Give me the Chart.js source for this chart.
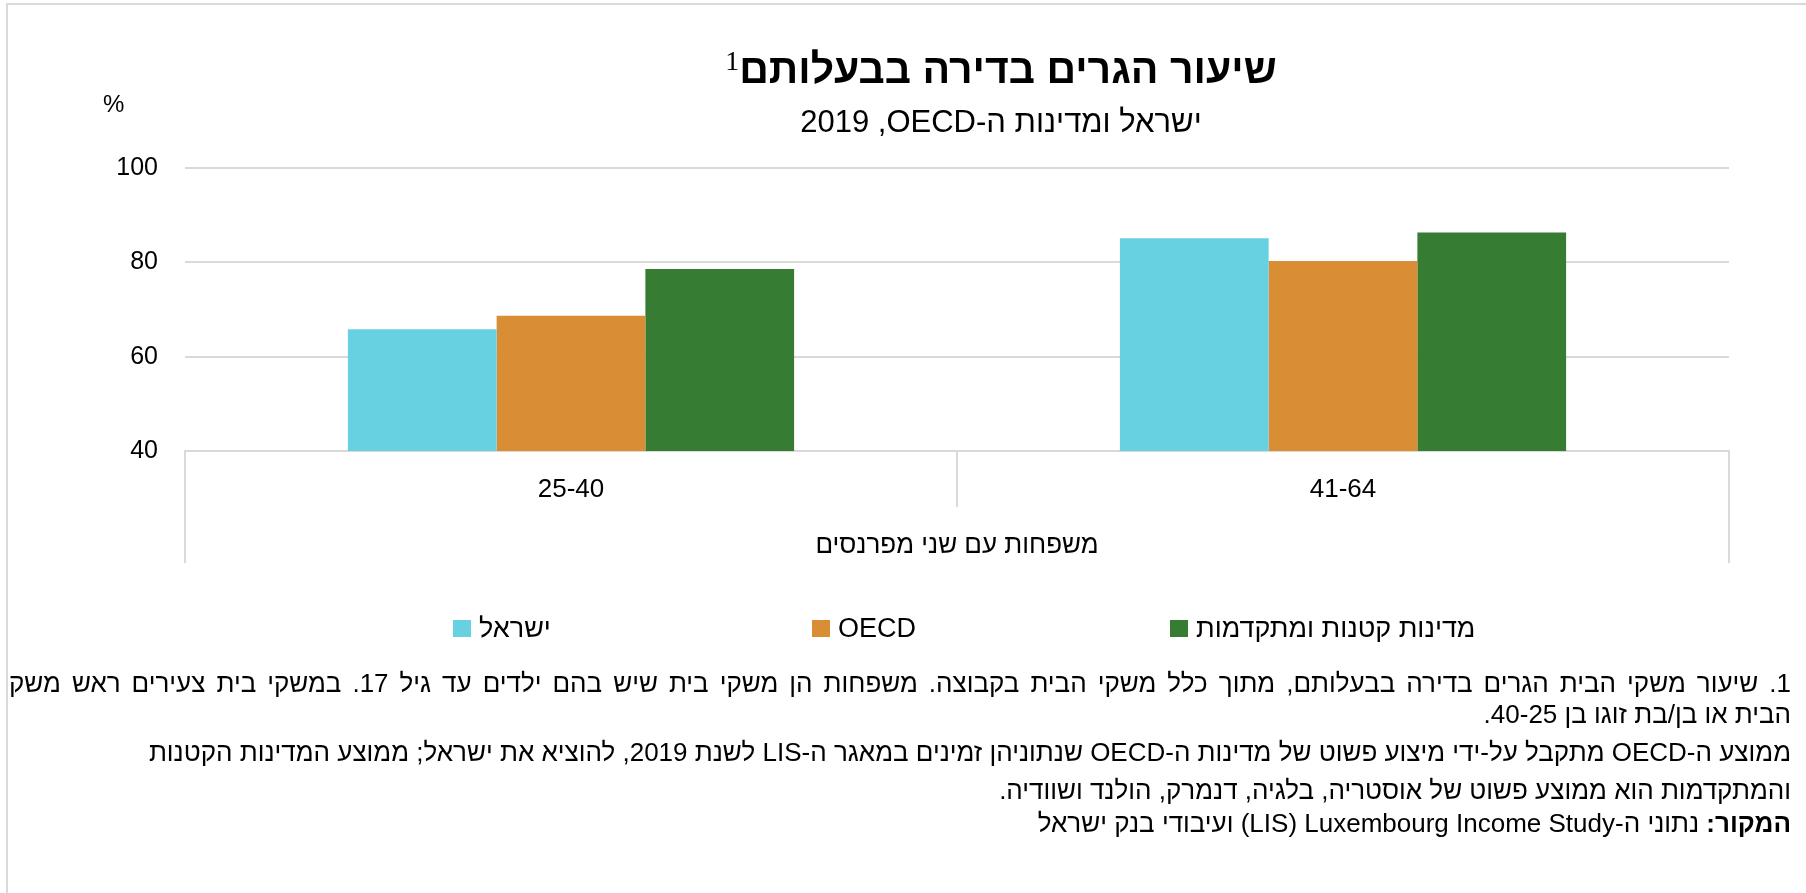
<!DOCTYPE html>
<html lang="he">
<head>
<meta charset="utf-8">
<title>שיעור הגרים בדירה בבעלותם</title>
<script src="https://cdn.jsdelivr.net/npm/chart.js@4.4.1/dist/chart.umd.min.js"></script>
<style>
  html, body { margin: 0; padding: 0; background: #fff; }
  #page {
    position: relative; width: 1806px; height: 893px; overflow: hidden;
    font-family: "Liberation Sans", Arial, "DejaVu Sans", sans-serif; color: #000;
  }
  #frame {
    position: absolute; left: 6px; top: 3px; right: 0; bottom: 0;
    border-left: 2px solid #d9d9d9; border-top: 2px solid #d9d9d9;
  }
  #chart { position: absolute; left: 0; top: 0; }
  .abs { position: absolute; white-space: nowrap; line-height: 1; }
  #title { left: 401px; width: 1200px; top: 47px; text-align: center; font-size: 41px; font-weight: bold; }
  #title sup { font-family: "Liberation Serif", serif; font-weight: normal; font-size: 28px; vertical-align: 13px; }
  #subtitle { left: 401px; width: 1200px; top: 106px; text-align: center; font-size: 31px; }
  #unit { left: 103px; top: 92px; font-size: 24px; }
  #legend .item { position: absolute; top: 615px; display: flex; align-items: center; gap: 8px; font-size: 27px; line-height: 1; white-space: nowrap; }
  #legend .box { width: 18px; height: 17px; }
  .note { right: 15px; font-size: 26px; direction: rtl; text-align: right; }
  .note.justify { left: 9px; white-space: normal; text-align: justify; text-align-last: justify; }
</style>
</head>
<body>
<div id="page">
  <div id="frame"></div>
  <canvas id="chart" width="1806" height="893"></canvas>
  <div id="title" class="abs" dir="rtl">שיעור הגרים בדירה בבעלותם<sup>1</sup></div>
  <div id="subtitle" class="abs" dir="rtl">ישראל ומדינות ה-OECD,&rlm; 2019</div>
  <div id="unit" class="abs">%</div>
  <div id="legend"></div>
  <div class="abs note justify" style="top:670px">1. שיעור משקי הבית הגרים בדירה בבעלותם, מתוך כלל משקי הבית בקבוצה. משפחות הן משקי בית שיש בהם ילדים עד גיל 17. במשקי בית צעירים ראש משק</div>
  <div class="abs note" style="top:701px">הבית או בן/בת זוגו בן 25&rlm;-40.</div>
  <div class="abs note" style="top:739px">ממוצע ה-OECD מתקבל על-ידי מיצוע פשוט של מדינות ה-OECD שנתוניהן זמינים במאגר ה-LIS לשנת 2019, להוציא את ישראל; ממוצע המדינות הקטנות</div>
  <div class="abs note" style="top:777px">והמתקדמות הוא ממוצע פשוט של אוסטריה, בלגיה, דנמרק, הולנד ושוודיה.</div>
  <div class="abs note" style="top:810px"><b>המקור:</b> נתוני ה-Luxembourg Income Study&rlm; (LIS) ועיבודי בנק ישראל</div>
</div>
<script>
// שיעור הגרים בדירה בבעלותם, משפחות עם שני מפרנסים, לפי גיל ראש משק הבית (%)
const CATEGORIES = ["25-40", "41-64"];
const GROUP_LABEL = ["משפחות עם שני מפרנסים"];
const SERIES_NAMES = ["ישראל", "OECD", "מדינות קטנות ומתקדמות"];
const ISRAEL = [65.8, 85.1];
const OECD = [68.7, 80.3];
const SMALL_ADVANCED = [78.6, 86.3];
const Y_TICKS = [40, 60, 80, 100];
const COLORS = ["#67d1e2", "#d98e35", "#377c33"];

const GRID = "#d9d9d9";
const LEGEND_X = [453, 812, 1170]; // 图例三项的左端位置
Chart.defaults.font.family = '"Liberation Sans", Arial, "DejaVu Sans", sans-serif';
Chart.defaults.color = "#000";

const seriesValues = [ISRAEL, OECD, SMALL_ADVANCED];
const datasets = SERIES_NAMES.map(function (name, i) {
  return {
    label: name,
    data: seriesValues[i],
    backgroundColor: COLORS[i],
    borderWidth: 0,
    categoryPercentage: 0.578,
    barPercentage: 1,
  };
});

new Chart(document.getElementById("chart"), {
  type: "bar",
  data: { labels: CATEGORIES, datasets: datasets },
  options: {
    responsive: false,
    animation: false,
    devicePixelRatio: 1,
    layout: { padding: { top: 168, right: 77, bottom: 330, left: 0 } },
    plugins: { legend: { display: false }, tooltip: { enabled: false } },
    scales: {
      y: {
        min: 40, max: 100,
        afterBuildTicks: s => { s.ticks = Y_TICKS.map(v => ({ value: v })); },
        afterFit: s => { s.width = 185; },
        ticks: { padding: 27, font: { size: 25 } },
        grid: { color: GRID, lineWidth: 2, drawTicks: false },
        border: { display: false },
      },
      // 第一层分类:年龄组,分隔线向下延伸到第一层底部
      x: {
        afterFit: s => { s.height = 56; },
        ticks: { padding: -33, font: { size: 26 } },
        grid: { offset: true, drawOnChartArea: false, tickLength: 56, color: GRID, lineWidth: 2 },
        border: { color: GRID, width: 2 },
      },
      // 第二层分类:整组标题,只有左右两条外框线
      x2: {
        type: "category",
        position: "bottom",
        labels: GROUP_LABEL,
        offset: true,
        weight: 1,
        afterFit: s => { s.height = 56; },
        ticks: { padding: -33, font: { size: 26 } },
        grid: { offset: true, drawOnChartArea: false, tickLength: 56, color: GRID, lineWidth: 2 },
        border: { display: false },
      },
    },
  },
});

// 图例放在图下方,三项等距
document.getElementById("legend").innerHTML = SERIES_NAMES.map(function (name, i) {
  return '<span class="item" style="left:' + LEGEND_X[i] + 'px">'
    + '<span class="box" style="background:' + COLORS[i] + '"></span>'
    + '<span dir="auto">' + name + "</span></span>";
}).join("");
</script>
</body>
</html>
